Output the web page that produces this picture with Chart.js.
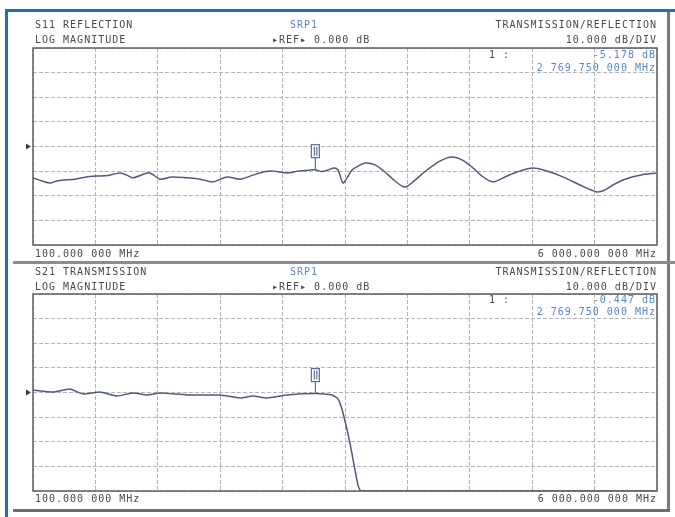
<!DOCTYPE html>
<html>
<head>
<meta charset="utf-8">
<script src="https://cdn.jsdelivr.net/npm/chart.js@4.4.1/dist/chart.umd.min.js"></script>
<style>
  html, body { margin: 0; padding: 0; background: #ffffff; }
  #page { position: relative; width: 675px; height: 517px; overflow: hidden; background: #ffffff; }
  canvas { position: absolute; left: 0; }
  .t { position: absolute; font-family: "DejaVu Sans Mono", monospace; font-size: 10px;
       letter-spacing: 1px; line-height: 12px; color: #4a4a4a; white-space: pre; }
  .b { color: #5b86c6; }
  .r { text-align: right; }
  .bar { position: absolute; }
</style>
</head>
<body>
<div id="page">
  <canvas id="s11" width="675" height="262" style="top:0"></canvas>
  <canvas id="s21" width="675" height="255" style="top:262px"></canvas>

  <!-- S11 header -->
  <div class="t" style="left:35px; top:19px">S11 REFLECTION</div>
  <div class="t" style="left:35px; top:34px">LOG MAGNITUDE</div>
  <div class="t b" style="left:290px; top:19px">SRP1</div>
  <div class="t" style="left:272px; top:34px">▸REF▸ 0.000 dB</div>
  <div class="t r" style="right:18px; top:19px">TRANSMISSION/REFLECTION</div>
  <div class="t r" style="right:18px; top:34px">10.000 dB/DIV</div>
  <div class="t" style="left:489px; top:49px">1 :</div>
  <div class="t b r" id="s11MkVal" style="right:19px; top:49px"></div>
  <div class="t b r" id="s11MkFreq" style="right:19px; top:62px"></div>
  <div class="t" id="s11Start" style="left:35px; top:248px"></div>
  <div class="t r" id="s11Stop" style="right:18px; top:248px"></div>

  <!-- S21 header -->
  <div class="t" style="left:35px; top:266px">S21 TRANSMISSION</div>
  <div class="t" style="left:35px; top:281px">LOG MAGNITUDE</div>
  <div class="t b" style="left:290px; top:266px">SRP1</div>
  <div class="t" style="left:272px; top:281px">▸REF▸ 0.000 dB</div>
  <div class="t r" style="right:18px; top:266px">TRANSMISSION/REFLECTION</div>
  <div class="t r" style="right:18px; top:281px">10.000 dB/DIV</div>
  <div class="t" style="left:489px; top:294px">1 :</div>
  <div class="t b r" id="s21MkVal" style="right:19px; top:294px"></div>
  <div class="t b r" id="s21MkFreq" style="right:19px; top:306px"></div>
  <div class="t" id="s21Start" style="left:35px; top:493px"></div>
  <div class="t r" id="s21Stop" style="right:18px; top:493px"></div>

  <!-- instrument frame -->
  <div class="bar" style="left:5px; top:9px; width:670px; height:3px; background:#1f6fb4"></div>
  <div class="bar" style="left:5px; top:9px; width:3px; height:508px; background:#1f6fb4"></div>
  <div class="bar" style="left:667px; top:12px; width:3px; height:500px; background:#7a7a7a"></div>
  <div class="bar" style="left:13px; top:509px; width:657px; height:3px; background:#6e6e6e"></div>
  <div class="bar" style="left:13px; top:261px; width:662px; height:3px; background:#8c8c8c"></div>
</div>

<script>
// Sweep settings
const startMHz = 100;
const stopMHz = 6000;
const xDivisions = 10;
const yDivisions = 8;
const startLabel = "100.000 000 MHz";
const stopLabel = "6 000.000 000 MHz";

// Marker 1
const markerMHz = 2769.75;
const markerLabel = "2 769.750 000 MHz";
const s11Marker = -5.178;
const s21Marker = -0.447;

// S11 reflection trace (MHz, dB)
const s11Freq = [100, 185, 261, 327, 384, 497, 601, 705, 809, 923, 989, 1045, 1121, 1206, 1301,
  1414, 1556, 1679, 1802, 1934, 2057, 2180, 2275, 2369, 2502, 2606, 2719, markerMHz, 2833, 2889,
  2946, 2984, 3031, 3069, 3116, 3173, 3239, 3334, 3428, 3523, 3617, 3712, 3825, 3948, 4062, 4156,
  4251, 4345, 4449, 4563, 4676, 4827, 4988, 5130, 5272, 5433, 5508, 5584, 5697, 5839, 6000];
const s11dB = [-7.0, -7.7, -8.15, -7.7, -7.5, -7.3, -6.8, -6.6, -6.5, -5.9, -6.4, -7.0, -6.4, -5.9, -7.3,
  -6.8, -7.0, -7.3, -7.9, -6.8, -7.3, -6.4, -5.7, -5.5, -5.9, -5.5, -5.25, s11Marker, -5.6, -5.25,
  -4.8, -5.25, -8.15, -7.0, -5.25, -4.4, -3.7, -4.1, -5.7, -7.7, -9.05, -7.5, -5.25, -3.25, -2.35, -3.0,
  -4.6, -6.6, -7.9, -6.8, -5.7, -4.8, -5.7, -7.0, -8.6, -10.15, -9.7, -8.6, -7.3, -6.4, -5.9];

// S21 transmission trace (MHz, dB); the display floor is -40 dB
const s21Freq = [100, 289, 450, 573, 733, 894, 1045, 1178, 1301, 1556, 1868, 2057, 2180, 2312, 2502,
  markerMHz, 2927, 2984, 3031, 3097, 3173, 3201, 3500, 4000, 4500, 5000, 5500, 6000];
const s21dB = [1.0, 0.2, 1.4, -0.6, 0.2, -1.4, -0.2, -1.0, -0.2, -1.0, -1.0, -2.2, -1.4, -2.2, -1.0,
  s21Marker, -1.0, -2.6, -8.3, -20.6, -37.7, -40, -40, -40, -40, -40, -40, -40];

// Vertical ranges (reference level 0 dB at the centre line)
const s11Range = [-22, 22];
const s21Range = [-40, 40];

const traceColor = '#4d5c7c';
const gridColor = '#b4b4b4';
const frameColor = '#5e5e5e';

function evenTicks(min, max, n) {
  const out = [];
  for (let i = 0; i <= n; i++) out.push({ value: min + (max - min) * i / n });
  return out;
}

const screenPlugin = {
  id: 'screen',
  afterDatasetsDraw(chart, args, opts) {
    const { ctx, chartArea: a, scales: { x, y } } = chart;
    ctx.save();
    // graticule frame
    ctx.strokeStyle = frameColor;
    ctx.lineWidth = 1.5;
    ctx.strokeRect(a.left, a.top, a.right - a.left, a.bottom - a.top);
    // reference level pointer
    const ry = y.getPixelForValue(0);
    ctx.fillStyle = '#3c3c3c';
    ctx.beginPath();
    ctx.moveTo(a.left - 7, ry - 3);
    ctx.lineTo(a.left - 2, ry);
    ctx.lineTo(a.left - 7, ry + 3);
    ctx.closePath();
    ctx.fill();
    // marker flag on the trace
    const mx = x.getPixelForValue(opts.mFreq);
    const my = y.getPixelForValue(opts.mVal);
    ctx.strokeStyle = '#5a6f96';
    ctx.lineWidth = 1.2;
    ctx.beginPath();
    ctx.moveTo(mx, my);
    ctx.lineTo(mx, my - 12);
    ctx.stroke();
    ctx.fillStyle = '#ffffff';
    ctx.fillRect(mx - 4, my - 25, 8, 13);
    ctx.strokeRect(mx - 4, my - 25, 8, 13);
    ctx.beginPath();
    ctx.moveTo(mx - 1, my - 23);
    ctx.lineTo(mx - 1, my - 14);
    ctx.moveTo(mx + 1.5, my - 23);
    ctx.lineTo(mx + 1.5, my - 14);
    ctx.stroke();
    ctx.restore();
  }
};

function makeChart(id, freq, vals, range, mVal, pad, tension) {
  return new Chart(document.getElementById(id), {
    type: 'line',
    data: {
      datasets: [{
        data: freq.map((f, i) => ({ x: f, y: vals[i] })),
        borderColor: traceColor,
        borderWidth: 1.5,
        pointRadius: 0,
        tension: tension,
        fill: false
      }]
    },
    options: {
      responsive: false,
      animation: false,
      devicePixelRatio: 1,
      layout: { padding: pad },
      plugins: {
        legend: { display: false },
        tooltip: { enabled: false },
        screen: { mFreq: markerMHz, mVal: mVal }
      },
      scales: {
        x: {
          type: 'linear', min: startMHz, max: stopMHz,
          afterBuildTicks: s => { s.ticks = evenTicks(startMHz, stopMHz, xDivisions); },
          ticks: { display: false },
          grid: { color: gridColor, lineWidth: 1, drawTicks: false },
          border: { display: false, dash: [4, 2] }
        },
        y: {
          type: 'linear', min: range[0], max: range[1],
          afterBuildTicks: s => { s.ticks = evenTicks(range[0], range[1], yDivisions); },
          ticks: { display: false },
          grid: { color: gridColor, lineWidth: 1, drawTicks: false },
          border: { display: false, dash: [4, 2] }
        }
      }
    },
    plugins: [screenPlugin]
  });
}

makeChart('s11', s11Freq, s11dB, s11Range, s11Marker,
  { left: 33, right: 18, top: 48, bottom: 17 }, 0.3);
makeChart('s21', s21Freq, s21dB, s21Range, s21Marker,
  { left: 33, right: 18, top: 32, bottom: 26 }, 0.15);

const fmt = v => (v < 0 ? '-' : '+') + Math.abs(v).toFixed(3) + ' dB';
document.getElementById('s11MkVal').textContent = fmt(s11Marker);
document.getElementById('s21MkVal').textContent = fmt(s21Marker);
document.getElementById('s11MkFreq').textContent = markerLabel;
document.getElementById('s21MkFreq').textContent = markerLabel;
['s11Start', 's21Start'].forEach(id => document.getElementById(id).textContent = startLabel);
['s11Stop', 's21Stop'].forEach(id => document.getElementById(id).textContent = stopLabel);
</script>
</body>
</html>
